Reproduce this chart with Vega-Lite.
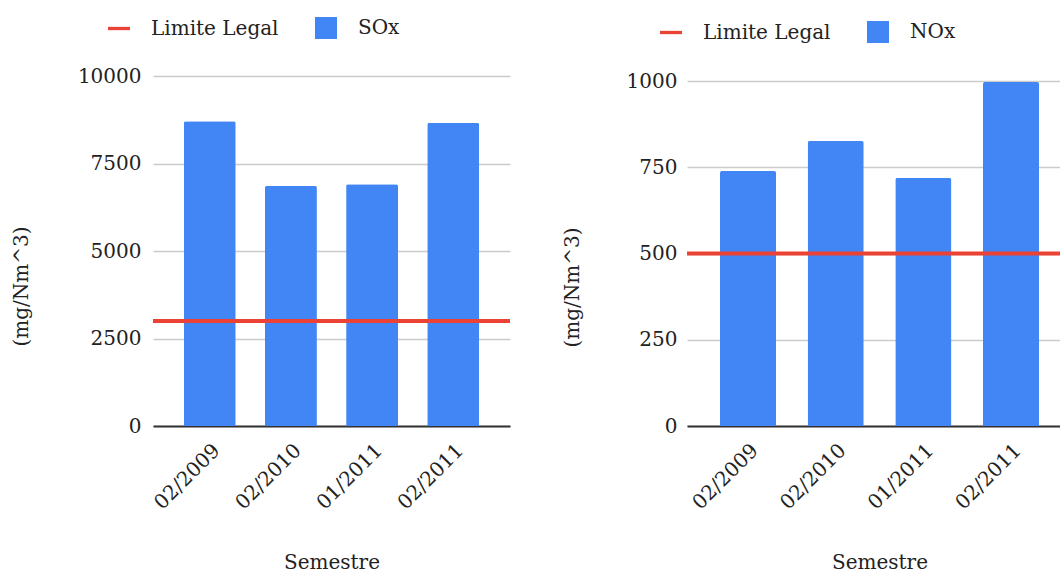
{
  "$schema": "https://vega.github.io/schema/vega-lite/v6.json",
  "padding": {"left": 11, "top": 17, "right": 0, "bottom": 0},
  "spacing": 50,
  "config": {
    "font": "DejaVu Serif",
    "view": {"stroke": null},
    "axis": {"labelFontSize": 20, "titleFontSize": 20, "titleFontWeight": "normal", "labelColor": "#222222", "titleColor": "#222222", "labelFont": "DejaVu Serif", "titleFont": "DejaVu Serif"},
    "legend": {"labelFontSize": 20, "labelFont": "DejaVu Serif", "labelColor": "#222222", "orient": "none", "direction": "horizontal", "symbolSize": 484, "labelOffset": 21, "columnPadding": 36, "title": null}
  },
  "resolve": {"scale": {"color": "independent", "y": "independent", "x": "independent"}, "legend": {"color": "independent"}},
  "hconcat": [
    {
      "width": 357,
      "height": 350,
      "layer": [
        {
          "data": {"values": [
            {"semestre": "02/2009", "valor": 8710},
            {"semestre": "02/2010", "valor": 6860},
            {"semestre": "01/2011", "valor": 6910},
            {"semestre": "02/2011", "valor": 8660}
          ]},
          "mark": {"type": "bar", "cornerRadiusTopLeft": 2, "cornerRadiusTopRight": 2},
          "encoding": {
            "x": {"field": "semestre", "type": "nominal", "sort": null, "title": "Semestre",
                  "scale": {"paddingInner": 0.36, "paddingOuter": 0.38},
                  "axis": {"labelAngle": -45, "ticks": false, "domainColor": "#333333", "domainWidth": 2, "labelPadding": 14, "titlePadding": 40}},
            "y": {"field": "valor", "type": "quantitative", "title": "(mg/Nm^3)",
                  "scale": {"domain": [0, 10000]},
                  "axis": {"values": [0, 2500, 5000, 7500, 10000], "format": "d", "domain": false, "ticks": false, "gridColor": "#cccccc", "gridWidth": 1.5, "labelPadding": 12, "titlePadding": 46, "titleY": 210}},
            "color": {"datum": "SOx", "scale": {"domain": ["Limite Legal", "SOx"], "range": ["#EA4335", "#4285F4"]},
                      "legend": {"legendX": -45, "legendY": -59, "encode": {"symbols": {"update": {
                        "shape": {"signal": "datum.value === 'Limite Legal' ? 'M-1,-0.15H1V0.15H-1Z' : 'M-1,-1H1V1H-1Z'"},
                        "fill": {"signal": "datum.value === 'Limite Legal' ? '#EA4335' : '#4285F4'"},
                        "stroke": {"value": "transparent"},
                        "strokeWidth": {"value": 0}}}}}}
          }
        },
        {
          "data": {"values": [{"limite": 3000}]},
          "mark": {"type": "rule", "strokeWidth": 4},
          "encoding": {
            "y": {"field": "limite", "type": "quantitative"},
            "color": {"datum": "Limite Legal"}
          }
        }
      ]
    },
    {
      "width": 385,
      "height": 350,
      "layer": [
        {
          "data": {"values": [
            {"semestre": "02/2009", "valor": 739},
            {"semestre": "02/2010", "valor": 826},
            {"semestre": "01/2011", "valor": 719},
            {"semestre": "02/2011", "valor": 997}
          ]},
          "mark": {"type": "bar", "cornerRadiusTopLeft": 2, "cornerRadiusTopRight": 2},
          "encoding": {
            "x": {"field": "semestre", "type": "nominal", "sort": null, "title": "Semestre",
                  "scale": {"paddingInner": 0.36, "paddingOuter": 0.376},
                  "axis": {"labelAngle": -45, "ticks": false, "domainColor": "#333333", "domainWidth": 2, "labelPadding": 14, "titlePadding": 40}},
            "y": {"field": "valor", "type": "quantitative", "title": "(mg/Nm^3)",
                  "scale": {"domain": [0, 1014.5], "nice": false},
                  "axis": {"values": [0, 250, 500, 750, 1000], "format": "d", "domain": false, "ticks": false, "gridColor": "#cccccc", "gridWidth": 1.5, "labelPadding": 10, "titlePadding": 44, "titleY": 211}},
            "color": {"datum": "NOx", "scale": {"domain": ["Limite Legal", "NOx"], "range": ["#EA4335", "#4285F4"]},
                      "legend": {"legendX": -27, "legendY": -55, "encode": {"symbols": {"update": {
                        "shape": {"signal": "datum.value === 'Limite Legal' ? 'M-1,-0.15H1V0.15H-1Z' : 'M-1,-1H1V1H-1Z'"},
                        "fill": {"signal": "datum.value === 'Limite Legal' ? '#EA4335' : '#4285F4'"},
                        "stroke": {"value": "transparent"},
                        "strokeWidth": {"value": 0}}}}}}
          }
        },
        {
          "data": {"values": [{"limite": 500}]},
          "mark": {"type": "rule", "strokeWidth": 4},
          "encoding": {
            "y": {"field": "limite", "type": "quantitative"},
            "color": {"datum": "Limite Legal"}
          }
        }
      ]
    }
  ]
}
